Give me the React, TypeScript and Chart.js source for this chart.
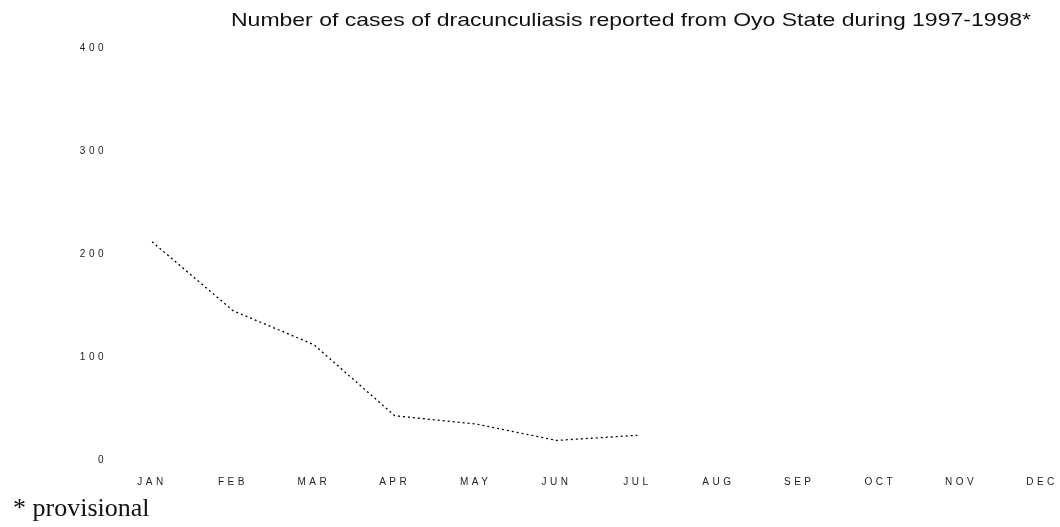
import React, { useEffect, useRef } from "react";
import { Chart, registerables } from "chart.js";

Chart.register(...registerables);

const months = ["JAN", "FEB", "MAR", "APR", "MAY", "JUN", "JUL", "AUG", "SEP", "OCT", "NOV", "DEC"];
const cases: (number | null)[] = [212, 145, 112, 43, 35, 19, 24, null, null, null, null, null];
const yTicks = [0, 100, 200, 300, 400];
const titleText = "Number of cases of dracunculiasis reported from Oyo State during 1997-1998*";
const footnoteText = "* provisional";

const spacingPlugin = {
  id: "letterSpacing",
  beforeDraw(chart: any) {
    chart.ctx.letterSpacing = "3.5px";
  },
};

export default function App() {
  const ref = useRef<HTMLCanvasElement | null>(null);

  useEffect(() => {
    if (!ref.current) return;
    const chart = new Chart(ref.current, {
      type: "line",
      data: {
        labels: months,
        datasets: [
          {
            data: cases,
            borderColor: "#000",
            borderWidth: 1.3,
            borderDash: [2, 3],
            pointRadius: 0,
            tension: 0,
            fill: false,
            spanGaps: false,
          },
        ],
      },
      options: {
        responsive: false,
        animation: false,
        layout: { padding: { top: 48, right: 18, bottom: 0, left: 0 } },
        plugins: {
          legend: { display: false },
          title: { display: false },
          tooltip: { enabled: false },
        },
        scales: {
          x: {
            offset: false,
            grid: { display: false, drawTicks: false },
            border: { display: false },
            ticks: {
              color: "#222",
              padding: 16,
              maxRotation: 0,
              autoSkip: false,
              font: { family: "'Liberation Sans', Arial, sans-serif", size: 10 },
            },
            afterFit(scale: any) {
              scale.height = 35;
              scale.paddingLeft = 0;
              scale.paddingRight = 0;
            },
          },
          y: {
            min: 0,
            max: 400,
            afterBuildTicks(scale: any) {
              scale.ticks = yTicks.map((v) => ({ value: v }));
            },
            grid: { display: false, drawTicks: false },
            border: { display: false },
            ticks: {
              color: "#222",
              padding: 45,
              font: { family: "'Liberation Sans', Arial, sans-serif", size: 10 },
            },
            afterFit(scale: any) {
              scale.width = 152;
              scale.paddingTop = 0;
              scale.paddingBottom = 0;
            },
          },
        },
      },
      plugins: [spacingPlugin],
    });
    return () => chart.destroy();
  }, []);

  return (
    <div style={{ position: "absolute", left: 0, top: 0, width: 1060, height: 527, background: "#fff", overflow: "hidden" }}>
      <canvas ref={ref} width={1060} height={495} style={{ position: "absolute", left: 0, top: 0, width: 1060, height: 495 }} />
      <div
        style={{
          position: "absolute",
          left: 631,
          top: 9,
          transform: "translateX(-50%) scaleX(1.21)",
          whiteSpace: "nowrap",
          fontFamily: "'Liberation Sans', Arial, sans-serif",
          fontSize: 19,
          color: "#111",
        }}
      >
        {titleText}
      </div>
      <div
        style={{
          position: "absolute",
          left: 13,
          top: 493,
          whiteSpace: "nowrap",
          fontFamily: "'Liberation Serif', 'Times New Roman', serif",
          fontSize: 26,
          color: "#111",
        }}
      >
        {footnoteText}
      </div>
    </div>
  );
}
